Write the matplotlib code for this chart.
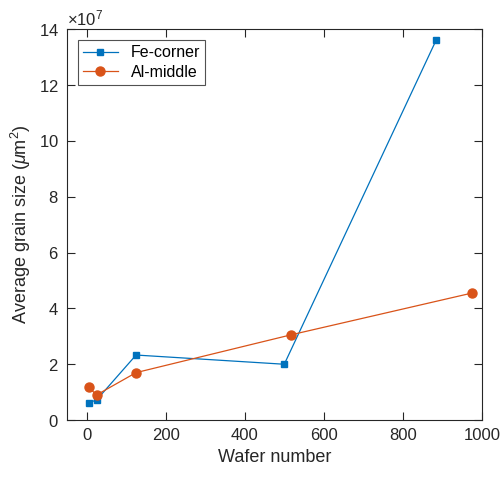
import matplotlib.pyplot as plt
from matplotlib.ticker import ScalarFormatter

plt.rcParams['font.family'] = ['Liberation Sans', 'DejaVu Sans']
plt.rcParams['mathtext.fontset'] = 'custom'
plt.rcParams['mathtext.rm'] = 'Liberation Sans'
plt.rcParams['mathtext.it'] = 'Liberation Sans:italic'

# Data
fe_wafer = [5, 25, 125, 500, 884]
fe_size = [0.62e7, 0.72e7, 2.33e7, 2.0e7, 13.6e7]

al_wafer = [5, 25, 125, 516, 975]
al_size = [1.18e7, 0.9e7, 1.7e7, 3.05e7, 4.55e7]

x_ticks = [0, 200, 400, 600, 800, 1000]
y_ticks = [0, 2e7, 4e7, 6e7, 8e7, 10e7, 12e7, 14e7]

fig = plt.figure(figsize=(5.03, 4.79), dpi=100)
ax = fig.add_axes([0.133, 0.123, 0.825, 0.816])

ax.plot(fe_wafer, fe_size, '-s', color='#0072BD', lw=0.9, ms=5,
        label='Fe-corner')
ax.plot(al_wafer, al_size, '-o', color='#D95319', lw=0.9, ms=6.5,
        label='Al-middle')

ax.set_xlim(-50, 1000)
ax.set_ylim(0, 14e7)
ax.set_xticks(x_ticks)
ax.set_yticks(y_ticks)

# fixed x10^7 exponent like the original
fmt = ScalarFormatter(useMathText=True)
fmt.set_powerlimits((7, 7))
ax.yaxis.set_major_formatter(fmt)
ax.yaxis.get_offset_text().set_fontsize(12)
ax.yaxis.get_offset_text().set_color('#262626')

ax.tick_params(direction='in', top=True, right=True, length=6, width=0.8,
               labelsize=12, colors='#262626', pad=6)
for s in ax.spines.values():
    s.set_linewidth(0.8)
    s.set_color('#262626')

ax.set_xlabel('Wafer number', fontsize=13, color='#262626')
ax.set_ylabel('Average grain size ($\\mu$m$^2$)', fontsize=13, color='#262626')

leg = ax.legend(loc='upper left', fontsize=11.5, fancybox=False,
                edgecolor='#262626', borderaxespad=0.7, handlelength=2.2,
                borderpad=0.3, labelspacing=0.3)
leg.get_frame().set_linewidth(0.8)

plt.savefig('out.png', dpi=100)
